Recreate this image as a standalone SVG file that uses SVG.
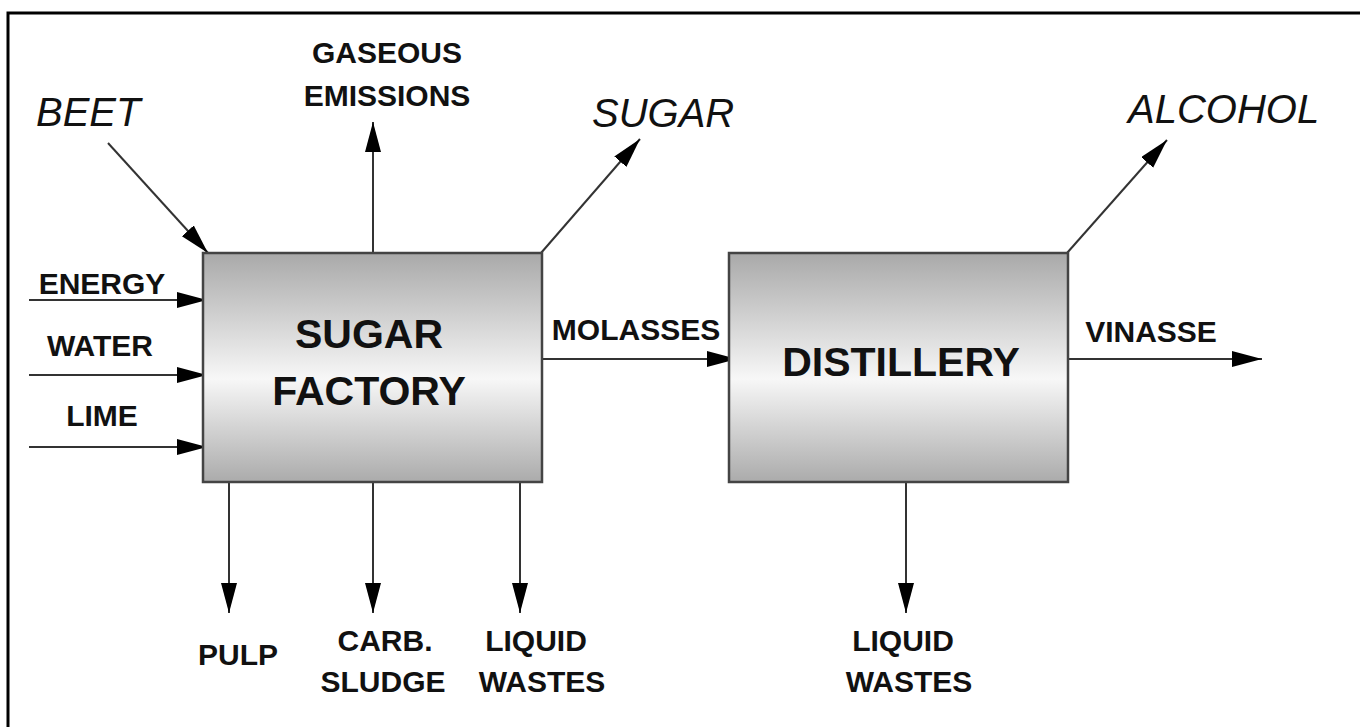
<svg xmlns="http://www.w3.org/2000/svg" width="1360" height="727" viewBox="0 0 1360 727">
<style>
.lbl{font-family:"Liberation Sans",Arial,sans-serif;font-weight:bold;font-size:30px;fill:#111;text-anchor:middle}
.it{font-family:"Liberation Sans",Arial,sans-serif;font-style:italic;font-size:40px;fill:#111}
.big{font-family:"Liberation Sans",Arial,sans-serif;font-weight:bold;font-size:41px;fill:#111;text-anchor:middle}
.box{fill:url(#g);stroke:#444;stroke-width:2.5}
.ln{stroke:#333;stroke-width:2;fill:none;marker-end:url(#ah)}
</style>
<defs>
<linearGradient id="g" x1="0" y1="0" x2="0" y2="1">
<stop offset="0" stop-color="#a9a9a9"/>
<stop offset="0.55" stop-color="#f7f7f7"/>
<stop offset="1" stop-color="#ababab"/>
</linearGradient>
<marker id="ah" markerUnits="userSpaceOnUse" markerWidth="32" markerHeight="18" refX="30" refY="8" orient="auto">
<path d="M0,0 L30,8 L0,16 Z" fill="#000"/>
</marker>
</defs>
<rect x="0" y="0" width="1360" height="727" fill="#fff"/>
<rect x="8" y="13" width="1400" height="760" fill="none" stroke="#000" stroke-width="3"/>
<g id="connectors">
<line class="ln" x1="108" y1="143" x2="208" y2="253"/>
<line class="ln" x1="373" y1="253" x2="373" y2="122"/>
<line class="ln" x1="541" y1="253" x2="640" y2="139"/>
<line class="ln" x1="29" y1="300" x2="207" y2="300"/>
<line class="ln" x1="29" y1="375" x2="207" y2="375"/>
<line class="ln" x1="29" y1="447" x2="207" y2="447"/>
<line class="ln" x1="542" y1="359" x2="737" y2="359"/>
<line class="ln" x1="229" y1="482" x2="229" y2="613"/>
<line class="ln" x1="373" y1="482" x2="373" y2="613"/>
<line class="ln" x1="520" y1="482" x2="520" y2="613"/>
<line class="ln" x1="1067" y1="253" x2="1167" y2="140"/>
<line class="ln" x1="1068" y1="359" x2="1262" y2="359"/>
<line class="ln" x1="906" y1="482" x2="906" y2="613"/>
</g>
<g id="sugar-factory">
<rect class="box" x="203" y="253" width="339" height="229"/>
<text class="big" x="369" y="348">SUGAR</text>
<text class="big" x="369" y="405">FACTORY</text>
</g>
<g id="distillery">
<rect class="box" x="729" y="253" width="339" height="229"/>
<text class="big" x="901" y="376">DISTILLERY</text>
</g>
<g id="beet"><text class="it" x="36" y="126">BEET</text></g>
<g id="sugar"><text class="it" x="592" y="127">SUGAR</text></g>
<g id="alcohol"><text class="it" x="1128" y="123">ALCOHOL</text></g>
<g id="gaseous"><text class="lbl" x="387" y="63">GASEOUS</text><text class="lbl" x="387" y="106">EMISSIONS</text></g>
<g id="energy"><text class="lbl" x="102" y="294">ENERGY</text></g>
<g id="water"><text class="lbl" x="100" y="356">WATER</text></g>
<g id="lime"><text class="lbl" x="102" y="426">LIME</text></g>
<g id="molasses"><text class="lbl" x="636" y="340">MOLASSES</text></g>
<g id="vinasse"><text class="lbl" x="1151" y="342">VINASSE</text></g>
<g id="pulp"><text class="lbl" x="238" y="665">PULP</text></g>
<g id="carb"><text class="lbl" x="385" y="651">CARB.</text><text class="lbl" x="383" y="692">SLUDGE</text></g>
<g id="liquid1"><text class="lbl" x="536" y="651">LIQUID</text><text class="lbl" x="542" y="692">WASTES</text></g>
<g id="liquid2"><text class="lbl" x="903" y="651">LIQUID</text><text class="lbl" x="909" y="692">WASTES</text></g>
</svg>
